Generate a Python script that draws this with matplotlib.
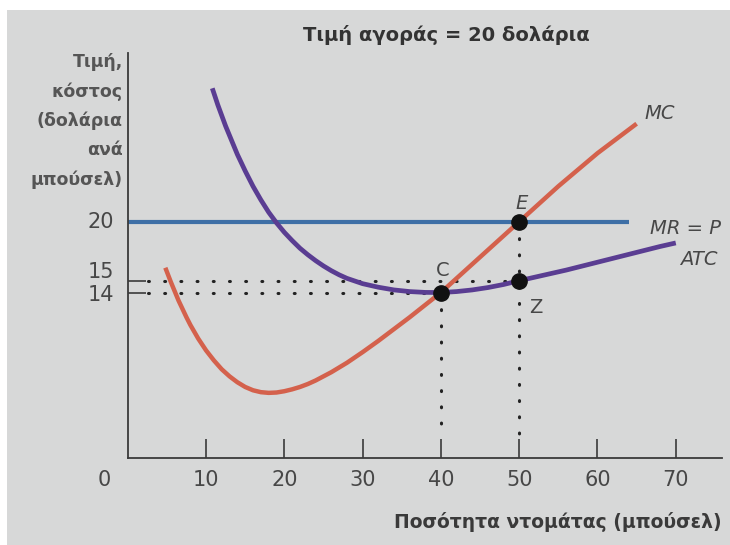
import matplotlib.pyplot as plt
from matplotlib.patches import Rectangle

# quantity (bushels) and cost values
atc_q = [10.8, 11.5, 12, 12.5, 13, 13.5, 14, 15, 16, 17, 18, 19, 20, 21, 22, 23, 24, 25,
         26, 27, 28, 30, 32, 34, 36, 38, 40, 42, 44, 46, 48, 50, 53, 56, 59, 62, 65, 68, 70]
atc_cost = [31.3, 29.9, 29.0, 28.1, 27.3, 26.5, 25.7, 24.3, 23.0, 21.85, 20.8, 19.9, 19.1,
            18.4, 17.75, 17.2, 16.7, 16.25, 15.85, 15.5, 15.2, 14.75, 14.45, 14.22, 14.08,
            14.01, 14.0, 14.08, 14.22, 14.42, 14.68, 15.0, 15.45, 15.9, 16.4, 16.9, 17.4,
            17.9, 18.2]

mc_q = [4.8, 5.5, 6, 6.5, 7, 7.5, 8, 9, 10, 11, 12, 13, 14, 15, 16, 17, 18, 19, 20, 21,
        22, 23, 24, 25, 26, 27, 28, 29, 30, 32, 34, 36, 38, 40, 45, 50, 55, 60, 65]
mc_cost = [16.1, 14.9, 14.1, 13.3, 12.6, 11.9, 11.25, 10.1, 9.1, 8.25, 7.5, 6.9, 6.4, 6.0,
           5.72, 5.56, 5.5, 5.53, 5.64, 5.8, 6.0, 6.25, 6.55, 6.9, 7.25, 7.65, 8.05, 8.5,
           8.95, 9.9, 10.9, 11.9, 12.95, 14.0, 17.0, 20.0, 23.0, 25.8, 28.3]

price = 20
mr_q = [0, 64]

# points C, E, Z
pt_names = ['C', 'E', 'Z']
pt_q = [40, 50, 50]
pt_cost = [14, 20, 15]

x_ticks = [10, 20, 30, 40, 50, 60, 70]
y_ticks = [20, 15, 14]

text_col = '#474747'
axis_col = '#3a3a3a'

fig = plt.figure(figsize=(7.3, 5.45), dpi=100, facecolor='white')
fig.patches.append(Rectangle((0.01, 0), 0.99, 0.982, transform=fig.transFigure,
                             facecolor='#d7d8d8', edgecolor='none', zorder=-1))
ax = fig.add_axes([0.175, 0.16, 0.814, 0.743])
ax.set_facecolor('none')

# dotted guide lines
dot = dict(color='#222222', lw=2.2, linestyle=(0, (0.3, 5.0)), dash_capstyle='round')
ax.plot([2.6, pt_q[0]], [pt_cost[0], pt_cost[0]], **dot)
ax.plot([2.6, pt_q[2]], [pt_cost[2], pt_cost[2]], **dot)
ax.plot([pt_q[0], pt_q[0]], [pt_cost[0], 1.9], **dot)
ax.plot([pt_q[1], pt_q[1]], [pt_cost[1], 1.9], **dot)

line = dict(solid_capstyle='butt', solid_joinstyle='round')
ax.plot(mr_q, [price, price], color='#3e6fa6', lw=3.0, **line)
ax.plot(mc_q, mc_cost, color='#d4614c', lw=3.2, **line)
ax.plot(atc_q, atc_cost, color='#5a3d92', lw=3.4, **line)
ax.plot(pt_q, pt_cost, 'o', color='#111111', ms=11, zorder=5)

ax.set_xlim(0, 75.9)
ax.set_ylim(0, 34.3)
for s in ['top', 'right']:
    ax.spines[s].set_visible(False)
for s in ['left', 'bottom']:
    ax.spines[s].set_color(axis_col)
    ax.spines[s].set_linewidth(1.3)

ax.set_xticks(x_ticks)
ax.set_xticklabels([str(v) for v in x_ticks])
ax.tick_params(axis='x', direction='in', length=14, width=1.2, color=axis_col,
               labelsize=15, labelcolor=text_col, pad=9)
ax.set_yticks(y_ticks)
ax.set_yticklabels([])
ax.tick_params(axis='y', direction='in', length=13, width=1.2, color=axis_col)

ytr = ax.get_yaxis_transform()
nudge = {20: 0, 15: 6, 14: -2}
for v in y_ticks:
    ax.annotate(str(v), xy=(0, v), xycoords=ytr, xytext=(-10, nudge[v]),
                textcoords='offset points', ha='right', va='center',
                fontsize=15, color=text_col)
ax.annotate('0', xy=(0, 0), xycoords='data', xytext=(-17, -16), textcoords='offset points',
            ha='center', va='center', fontsize=15, color=text_col, annotation_clip=False)

# curve and point labels
ax.text(68, 29.2, 'MC', fontsize=14, style='italic', color=text_col, ha='center', va='center')
ax.text(71.3, 19.4, 'MR = P', fontsize=14, style='italic', color=text_col, ha='center', va='center')
ax.text(73, 16.8, 'ATC', fontsize=14, style='italic', color=text_col, ha='center', va='center')
ax.text(50.3, 21.5, pt_names[1], fontsize=14, style='italic', color=text_col, ha='center', va='center')
ax.text(40.2, 15.9, pt_names[0], fontsize=14, color=text_col, ha='center', va='center')
ax.text(52.1, 12.7, pt_names[2], fontsize=14, color=text_col, ha='center', va='center')

fig.text(0.612, 0.935, 'Τιμή αγοράς = 20 δολάρια', fontsize=14, fontweight='bold',
         color='#333333', ha='center', va='center')
fig.text(0.168, 0.903, 'Τιμή,\nκόστος\n(δολάρια\nανά\nμπούσελ)', fontsize=12.5,
         fontweight='bold', color='#555555', ha='right', va='top', linespacing=1.78)
fig.text(0.989, 0.042, 'Ποσότητα ντομάτας (μπούσελ)', fontsize=13.5, fontweight='bold',
         color='#3a3a3a', ha='right', va='center')

fig.savefig('out.png', dpi=100, facecolor=fig.get_facecolor())
